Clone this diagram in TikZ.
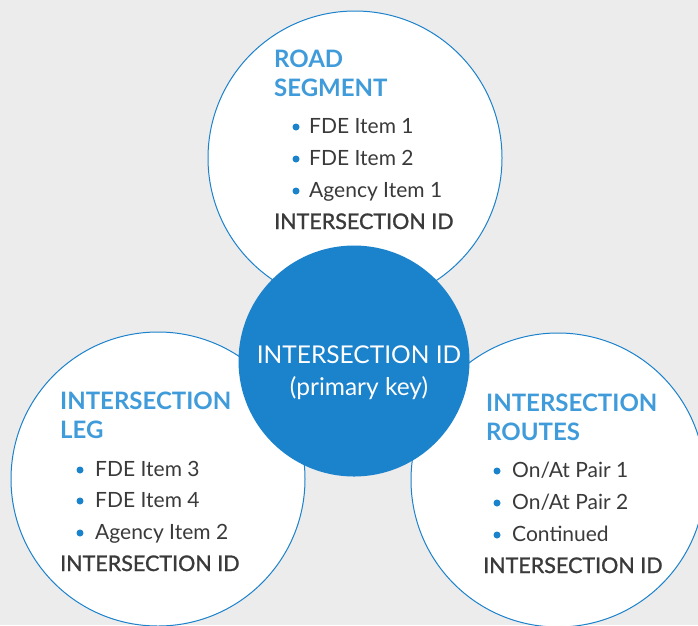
\documentclass[tikz,border=0pt]{standalone}
\usepackage{fontspec}
\setmainfont{Lato}
\newfontfamily\semib[FakeBold=1.2]{Lato}
\definecolor{bg}{RGB}{236,236,236}
\definecolor{mainblue}{RGB}{27,130,204}
\definecolor{titleblue}{RGB}{64,155,218}
\definecolor{txt}{RGB}{58,58,58}
\tikzset{
  bigcircle/.style={circle, draw=mainblue, fill=white, line width=1pt, minimum size=294pt, inner sep=0pt},
  keycircle/.style={circle, fill=mainblue, minimum size=231pt, inner sep=0pt},
  ttl/.style={anchor=base west, inner sep=0pt, text=titleblue, font=\bfseries\fontsize{24}{24}\selectfont},
  itm/.style={anchor=base west, inner sep=0pt, text=txt, font=\fontsize{21}{21}\selectfont},
  idt/.style={anchor=base west, inner sep=0pt, text=txt, font=\semib\fontsize{21.5}{21.5}\selectfont},
  dot/.style={circle, fill=mainblue, minimum size=7pt, inner sep=0pt},
  keytxt/.style={anchor=base, inner sep=0pt, text=white, font=\fontsize{24.5}{24.5}\selectfont},
}
\begin{document}
\begin{tikzpicture}[x=1pt,y=-1pt]
\fill[bg] (0,0) rectangle (698,625);
\useasboundingbox (0,0) rectangle (698,625);
% circles
\node[bigcircle] (top) at (355,158) {};
\node[bigcircle] (left) at (158,479) {};
\node[bigcircle] (right) at (558,480) {};
\node[keycircle] (key) at (354,361) {};
% key text
\node[keytxt] (k1) at (359,363) {INTERSECTION ID};
\node[keytxt] (k2) at (359,395) {(primary key)};
% top
\node[ttl] (t1) at (274,67) {ROAD};
\node[ttl] (t2) at (274,96) {SEGMENT};
\node[itm] (ti1) at (309,133) {FDE Item 1};
\node[itm] (ti2) at (309,165) {FDE Item 2};
\node[itm] (ti3) at (309,197) {Agency Item 1};
\node[dot] (td1) at (296,127) {};
\node[dot] (td2) at (296,159) {};
\node[dot] (td3) at (296,191) {};
\node[idt] (tid) at (274,229) {INTERSECTION ID};
% left
\node[ttl] (l1) at (60,409) {INTERSECTION};
\node[ttl] (l2) at (60,438) {LEG};
\node[itm] (li1) at (95,476) {FDE Item 3};
\node[itm] (li2) at (95,507) {FDE Item 4};
\node[itm] (li3) at (95,539) {Agency Item 2};
\node[dot] (ld1) at (80,470) {};
\node[dot] (ld2) at (80,501) {};
\node[dot] (ld3) at (80,533) {};
\node[idt] (lid) at (60,571) {INTERSECTION ID};
% right
\node[ttl] (r1) at (486,411) {INTERSECTION};
\node[ttl] (r2) at (486,440) {ROUTES};
\node[itm] (ri1) at (512,477) {On/At Pair 1};
\node[itm] (ri2) at (512,509) {On/At Pair 2};
\node[itm] (ri3) at (512,541) {Continued};
\node[dot] (rd1) at (497,471) {};
\node[dot] (rd2) at (497,503) {};
\node[dot] (rd3) at (497,535) {};
\node[idt] (rid) at (483,573) {INTERSECTION ID};
\end{tikzpicture}
\end{document}
